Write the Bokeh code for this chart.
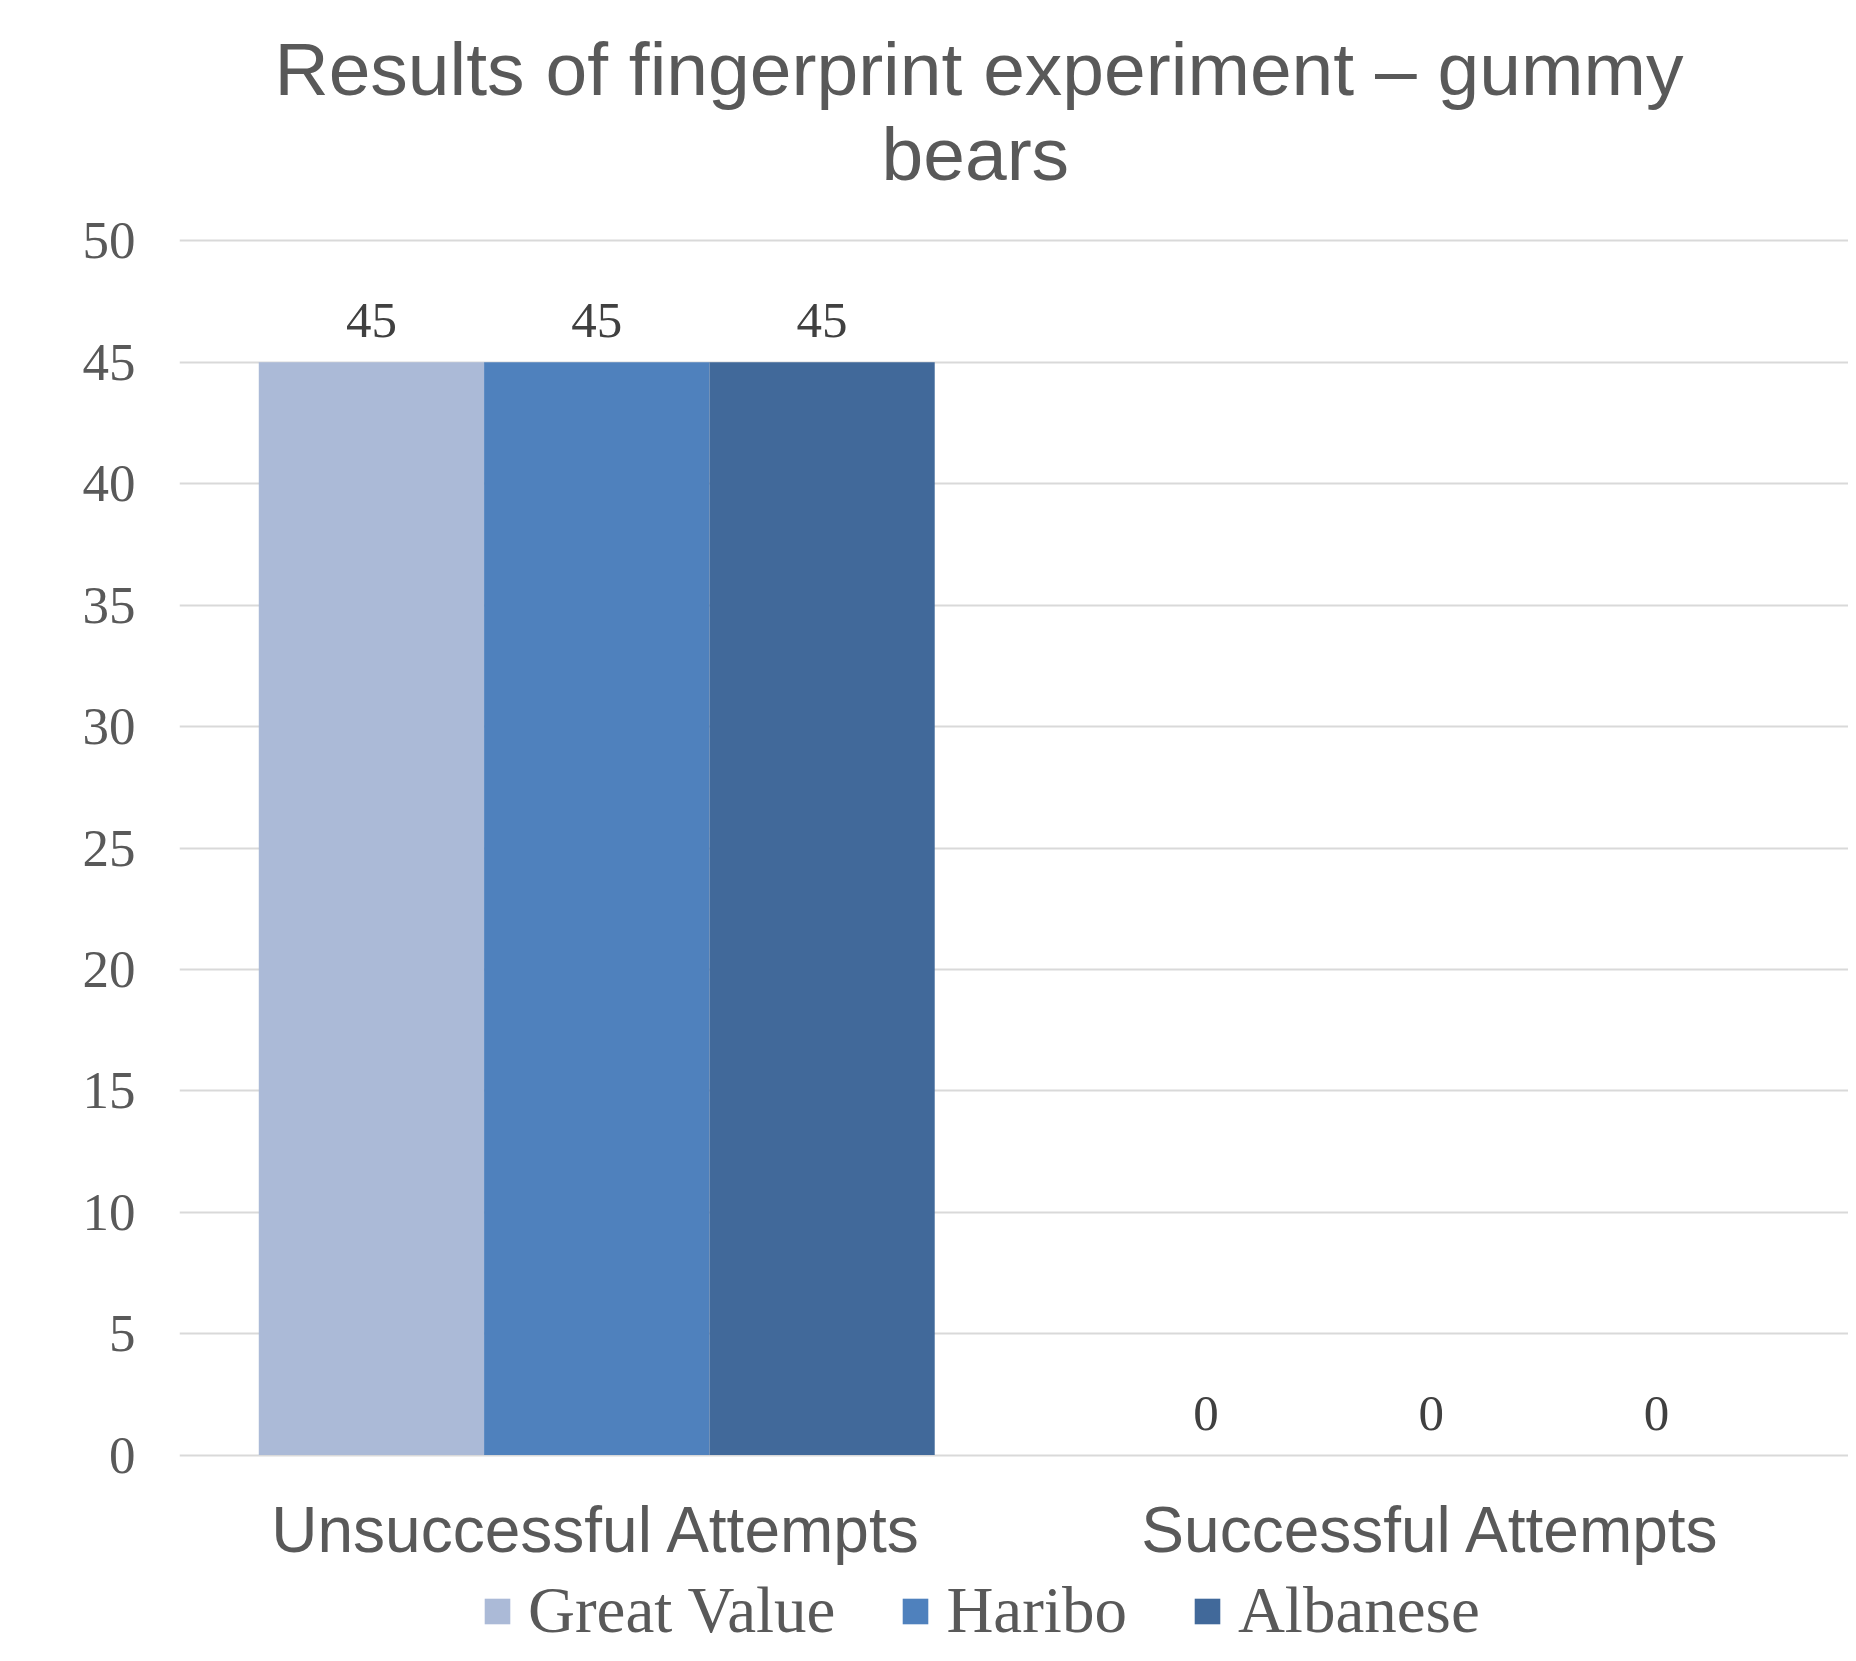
from bokeh.plotting import figure
from bokeh.layouts import column
from bokeh.models import ColumnDataSource, Range1d, FactorRange, LabelSet, Legend, LegendItem, Title
from bokeh.transform import dodge
from bokeh.embed import file_html
from bokeh.resources import INLINE

categories = ["Unsuccessful Attempts", "Successful Attempts"]
series_names = ["Great Value", "Haribo", "Albanese"]
great_value = [45, 0]
haribo = [45, 0]
albanese = [45, 0]
colors = ["#ABBAD7", "#4F81BD", "#41699A"]
y_ticks = list(range(0, 55, 5))

W, H1, H2 = 1848, 1573, 72
x_range = FactorRange(*categories, range_padding=0)
p = figure(width=W, height=H1, x_range=x_range,
           y_range=Range1d(-0.1, 50.1), output_backend="svg", toolbar_location=None,
           min_border_left=179, min_border_right=0, min_border_top=238, min_border_bottom=116)
p.outline_line_color = None
p.background_fill_color = "white"

src = ColumnDataSource(dict(cats=categories, gv=great_value, hb=haribo, ab=albanese,
                            gv_t=[str(v) for v in great_value],
                            hb_t=[str(v) for v in haribo],
                            ab_t=[str(v) for v in albanese]))
bw = 0.27
offsets = [-bw, 0, bw]
fields = ["gv", "hb", "ab"]
for f, off, c in zip(fields, offsets, colors):
    p.vbar(x=dodge("cats", off, range=x_range), top=f, bottom=0, width=bw, source=src,
           fill_color=c, line_color=None)
    lbl = LabelSet(x=dodge("cats", off, range=x_range), y=f, text=f + "_t", source=src,
                   text_align="center", text_baseline="middle", y_offset=42,
                   text_font="Liberation Serif", text_font_size="51px", text_color="#404040")
    p.add_layout(lbl)

# axes
p.yaxis.ticker = y_ticks
p.yaxis.axis_line_color = None
p.yaxis.major_tick_line_color = None
p.yaxis.minor_tick_line_color = None
p.yaxis.major_label_text_font = "Liberation Serif"
p.yaxis.major_label_text_font_size = "53px"
p.yaxis.major_label_text_color = "#595959"
p.yaxis.major_label_standoff = 38

p.xaxis.axis_line_color = None
p.xaxis.major_tick_line_color = None
p.xaxis.major_label_text_font = "Liberation Sans"
p.xaxis.major_label_text_font_size = "64px"
p.xaxis.major_label_text_color = "#595959"
p.xaxis.major_label_standoff = 30

p.xgrid.grid_line_color = None
p.ygrid.grid_line_color = "#D9D9D9"
p.ygrid.grid_line_width = 2

p.add_layout(Title(text="bears", align="left", offset=702, text_font="Liberation Sans",
                   text_font_size="75px", text_color="#595959", text_font_style="normal",
                   standoff=86), "above")
p.add_layout(Title(text="Results of fingerprint experiment \u2013 gummy", align="left", offset=95,
                   text_font="Liberation Sans", text_font_size="75px", text_color="#595959",
                   text_font_style="normal", standoff=-88), "above")

# legend strip (same series, drawn out of view; only the legend shows)
lg = figure(width=W, height=H2, x_range=x_range, y_range=Range1d(1000, 1001),
            x_axis_type=None, y_axis_type=None, output_backend="svg", toolbar_location=None,
            min_border=0)
lg.outline_line_color = None
lg.grid.grid_line_color = None
leg_renderers = []
for f, off, c in zip(fields, offsets, colors):
    leg_renderers.append(lg.vbar(x=dodge("cats", off, range=x_range), top=f, bottom=0, width=bw,
                                 source=src, fill_color=c, line_color=None))
legend = Legend(items=[LegendItem(label=n, renderers=[r]) for n, r in zip(series_names, leg_renderers)],
                orientation="horizontal", location=(302, -3),
                label_text_font="Liberation Serif", label_text_font_size="65px",
                label_text_color="#595959", glyph_width=32, glyph_height=32, label_height=50,
                label_standoff=15, spacing=64, border_line_color=None,
                background_fill_alpha=0, margin=0, padding=0)
lg.add_layout(legend, "center")

layout = column(p, lg, spacing=0)
open("out.html", "w").write(file_html(layout, INLINE))
